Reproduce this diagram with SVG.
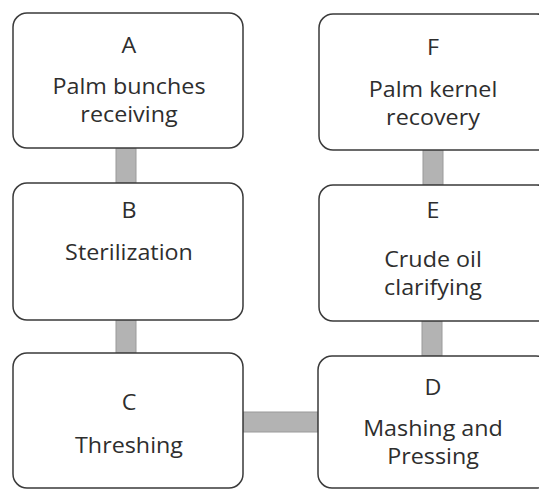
<svg xmlns="http://www.w3.org/2000/svg" width="539" height="490" viewBox="0 0 539 490">
<style>
.box{fill:#fff;stroke:#3a3a3a;stroke-width:1.5}
.bar{fill:#b3b3b3;stroke:#9a9a9a;stroke-width:1}
text{font-family:"Open Sans","Noto Sans",sans-serif;font-size:22px;fill:#2e2e2e;text-anchor:middle}
</style>
<rect width="539" height="490" fill="#fff"/>
<g id="connectors">
<rect class="bar" x="116" y="148" width="20" height="35"/>
<rect class="bar" x="116" y="320" width="20" height="33"/>
<rect class="bar" x="243" y="412" width="75" height="20"/>
<rect class="bar" x="423" y="150" width="20" height="35"/>
<rect class="bar" x="422" y="321" width="20" height="35"/>
</g>
<g id="A">
<rect class="box" x="13" y="13" width="230" height="135" rx="14"/>
<g transform="translate(129 0) scale(1.06 1) translate(-129 0)">
<text x="129" y="53">A</text>
<text x="129" y="94">Palm bunches<tspan x="129" y="122">receiving</tspan></text>
</g>
</g>
<g id="B">
<rect class="box" x="13" y="183" width="230" height="137" rx="14"/>
<g transform="translate(129 0) scale(1.06 1) translate(-129 0)">
<text x="129" y="218">B</text>
<text x="129" y="260">Sterilization</text>
</g>
</g>
<g id="C">
<rect class="box" x="13" y="353" width="230" height="135" rx="14"/>
<g transform="translate(129 0) scale(1.06 1) translate(-129 0)">
<text x="129" y="410">C</text>
<text x="129" y="453">Threshing</text>
</g>
</g>
<g id="F">
<rect class="box" x="319" y="14" width="232" height="136" rx="14"/>
<g transform="translate(433 0) scale(1.06 1) translate(-433 0)">
<text x="433" y="55">F</text>
<text x="433" y="97">Palm kernel<tspan x="433" y="125">recovery</tspan></text>
</g>
</g>
<g id="E">
<rect class="box" x="319" y="185" width="232" height="136" rx="14"/>
<g transform="translate(433 0) scale(1.06 1) translate(-433 0)">
<text x="433" y="218">E</text>
<text x="433" y="267">Crude oil<tspan x="433" y="295">clarifying</tspan></text>
</g>
</g>
<g id="D">
<rect class="box" x="318" y="356" width="232" height="132" rx="14"/>
<g transform="translate(433 0) scale(1.06 1) translate(-433 0)">
<text x="433" y="395">D</text>
<text x="433" y="436">Mashing and<tspan x="433" y="464">Pressing</tspan></text>
</g>
</g>
</svg>
